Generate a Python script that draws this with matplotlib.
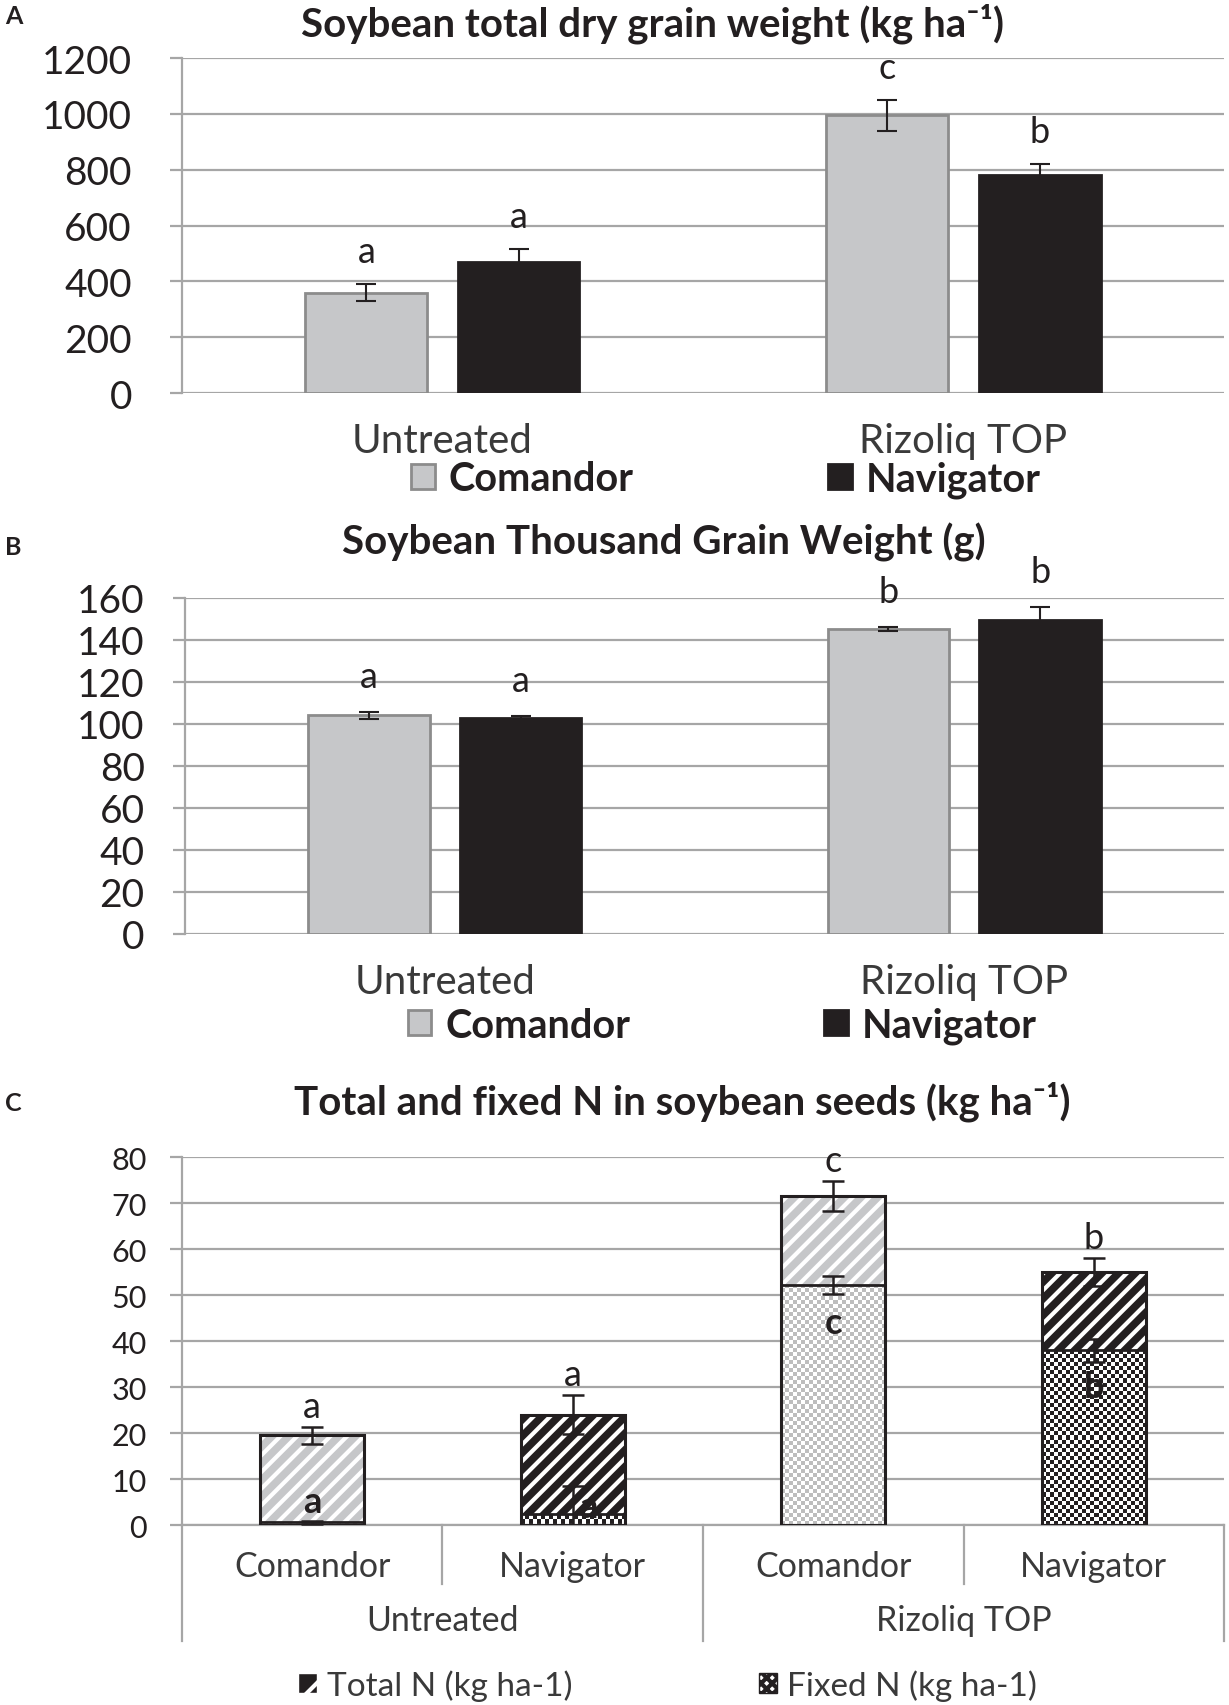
import matplotlib.pyplot as plt
import numpy as np
from matplotlib.patches import Patch
from matplotlib.colors import ListedColormap

plt.rcParams['font.family'] = ['Lato', 'DejaVu Sans']
plt.rcParams['hatch.linewidth'] = 3

# panel A: total dry grain weight
treatments = ['Untreated', 'Rizoliq TOP']
cultivars = ['Comandor', 'Navigator']
grain_com = [360, 995]
grain_com_err = [30, 55]
grain_nav = [470, 780]
grain_nav_err = [45, 40]
grain_com_lab = ['a', 'c']
grain_nav_lab = ['a', 'b']

# panel B: thousand grain weight
tgw_com = [104, 145]
tgw_com_err = [1.5, 1.0]
tgw_nav = [103, 149.5]
tgw_nav_err = [0.6, 6.0]
tgw_com_lab = ['a', 'b']
tgw_nav_lab = ['a', 'b']

# panel C: total and fixed N
n_groups = ['Comandor', 'Navigator', 'Comandor', 'Navigator']
total_n = [19.5, 24.0, 71.5, 55.0]
total_n_err = [1.8, 4.3, 3.2, 3.0]
fixed_n = [0.6, 2.4, 52.2, 38.0]
fixed_n_err = [0.3, 6.0, 2.0, 2.5]
total_lab = ['a', 'a', 'c', 'b']
fixed_lab = ['a', 'a', 'c', 'b']

GRID = '#a6a6a6'
LGRAY = '#c6c7c9'
DARK = '#231f20'
TXT = '#3a3a3a'

fig = plt.figure(figsize=(12.29, 17.06), dpi=100)


def style_axis(ax, ymax, step, fs, pad):
    ax.set_ylim(0, ymax)
    ax.set_yticks(np.arange(0, ymax + 1, step))
    ax.yaxis.grid(True, color=GRID, lw=1.6)
    ax.set_axisbelow(True)
    for s in ['top', 'right', 'bottom']:
        ax.spines[s].set_visible(False)
    ax.spines['left'].set_color(GRID)
    ax.spines['left'].set_linewidth(1.6)
    ax.tick_params(axis='y', length=9, width=1.6, color=GRID, labelsize=fs,
                   pad=pad, labelcolor=DARK)
    ax.tick_params(axis='x', length=0)


def two_bar_panel(ax, com, com_err, nav, nav_err, com_lab, nav_lab, ymax, step, off, ypad, leg_x, leg_y):
    x = np.arange(len(treatments))
    w = 0.234
    d = 0.146
    ax.bar(x - d, com, w, color=LGRAY, edgecolor='#8c8c8c', lw=2, label=cultivars[0])
    ax.bar(x + d, nav, w, color=DARK, edgecolor=DARK, lw=2, label=cultivars[1])
    ax.errorbar(x - d, com, yerr=com_err, fmt='none', ecolor=DARK, elinewidth=1.5, capsize=7, capthick=1.5)
    ax.errorbar(x + d, nav, yerr=nav_err, fmt='none', ecolor=DARK, elinewidth=1.5, capsize=7, capthick=1.5)
    for i in range(len(x)):
        ax.text(x[i] - d, com[i] + com_err[i] + off, com_lab[i], ha='center', va='bottom', fontsize=26, color=DARK)
        ax.text(x[i] + d, nav[i] + nav_err[i] + off, nav_lab[i], ha='center', va='bottom', fontsize=26, color=DARK)
    ax.set_xlim(-0.5, 1.5)
    ax.set_xticks(x)
    ax.set_xticklabels(treatments, fontsize=29, color=TXT)
    style_axis(ax, ymax, step, 28, ypad)
    ax.tick_params(axis='x', pad=21)
    ax.legend(ncol=2, loc='center', bbox_to_anchor=(leg_x, leg_y), frameon=False,
              prop={'size': 28.5, 'weight': 'bold'}, handlelength=0.6, handleheight=0.6,
              handletextpad=0.35, columnspacing=4.9, labelcolor=DARK)


axA = fig.add_axes([0.148, 0.769, 0.848, 0.1964])
two_bar_panel(axA, grain_com, grain_com_err, grain_nav, grain_nav_err,
              grain_com_lab, grain_nav_lab, 1200, 200, 58, 27, 0.522, -0.257)
axA.set_title('Soybean total dry grain weight (kg ha⁻¹)', fontsize=29,
              fontweight='bold', pad=16, color=DARK, x=0.452)

axB = fig.add_axes([0.1505, 0.452, 0.8455, 0.197])
two_bar_panel(axB, tgw_com, tgw_com_err, tgw_nav, tgw_nav_err,
              tgw_com_lab, tgw_nav_lab, 160, 20, 9, 20, 0.517, -0.272)
axB.set_title('Soybean Thousand Grain Weight (g)', fontsize=29,
              fontweight='bold', pad=32, color=DARK, x=0.461)

# panel C
axC = fig.add_axes([0.148, 0.1055, 0.848, 0.2157])
xc = np.arange(len(n_groups))
bw = 0.4
stripe_face = [LGRAY, DARK, LGRAY, DARK]
check_dark = ['#bdbdbd', DARK, '#bdbdbd', DARK]
for i in range(len(xc)):
    axC.bar(xc[i], total_n[i], bw, color=stripe_face[i], edgecolor='white', hatch='//', lw=0)
    fb = axC.bar(xc[i], fixed_n[i], bw, color='white', edgecolor=DARK, lw=0)[0]
    # checker texture clipped to the fixed N bar
    ny = max(1, int(fixed_n[i] * 4.6 / 4))
    nx = 26
    checker = (np.add.outer(np.arange(ny), np.arange(nx)) % 2).astype(float)
    cm = ListedColormap(['white', check_dark[i]])
    im = axC.imshow(checker, cmap=cm, vmin=0, vmax=1, interpolation='nearest', aspect='auto',
                    extent=(fb.get_x(), fb.get_x() + fb.get_width(), 0, fb.get_height()), zorder=2)
    im.set_clip_path(fb)
    axC.plot([fb.get_x(), fb.get_x() + fb.get_width()], [fixed_n[i], fixed_n[i]],
             color=DARK, lw=2, zorder=3)
    axC.bar(xc[i], total_n[i], bw, fill=False, edgecolor=DARK, lw=2.2, zorder=3)
axC.errorbar(xc, total_n, yerr=total_n_err, fmt='none', ecolor=DARK, elinewidth=1.8,
             capsize=8, capthick=1.8, zorder=4)
axC.errorbar(xc, fixed_n, yerr=fixed_n_err, fmt='none', ecolor=DARK, elinewidth=1.8,
             capsize=8, capthick=1.8, zorder=4)
for i in range(len(xc)):
    axC.text(xc[i], total_n[i] + total_n_err[i] + 4.5, total_lab[i], ha='center', va='center',
             fontsize=26, color=DARK, zorder=5)
fixed_lab_y = [1.5, 0.5, 40.5, 26.5]
fixed_lab_dx = [0, 0.06, 0, 0]
for i in range(len(xc)):
    axC.text(xc[i] + fixed_lab_dx[i], fixed_lab_y[i], fixed_lab[i], ha='center', va='bottom',
             fontsize=26, fontweight='bold', color=DARK, zorder=5)
axC.set_xlim(-0.5, 3.5)
axC.set_xticks(xc)
axC.set_xticklabels(n_groups, fontsize=24.5, color=TXT)
style_axis(axC, 80, 10, 22, 16)
axC.tick_params(axis='x', pad=18)
axC.spines['bottom'].set_visible(True)
axC.spines['bottom'].set_color(GRID)
axC.spines['bottom'].set_linewidth(1.6)
trans = axC.get_xaxis_transform()
for sx, ln in [(-0.5, -0.316), (0.5, -0.16), (1.5, -0.316), (2.5, -0.16), (3.5, -0.316)]:
    axC.plot([sx, sx], [0, ln], color=GRID, lw=1.6, transform=trans, clip_on=False)
axC.text(0.5, -0.257, treatments[0], transform=trans, ha='center', va='center', fontsize=24.5, color=TXT)
axC.text(2.5, -0.257, treatments[1], transform=trans, ha='center', va='center', fontsize=24.5, color=TXT)
axC.set_title('Total and fixed N in soybean seeds (kg ha⁻¹)', fontsize=29,
              fontweight='bold', pad=31, color=DARK, x=0.48)
handles = [Patch(facecolor=DARK, edgecolor='white', hatch='/', label='Total N (kg ha-1)'),
           Patch(facecolor='white', edgecolor=DARK, hatch='xxx', label='Fixed N (kg ha-1)')]
axC.legend(handles=handles, ncol=2, loc='center', bbox_to_anchor=(0.466, -0.435), frameon=False,
           fontsize=24, handlelength=0.55, handleheight=0.55, handletextpad=0.3, columnspacing=5.6,
           labelcolor=TXT)

for lab, yy in [('A', 0.9906), ('B', 0.679), ('C', 0.353)]:
    fig.text(0.004, yy, lab, fontsize=18, fontweight='bold', va='center', color=DARK)

fig.savefig('out.png', dpi=100, facecolor='white')
